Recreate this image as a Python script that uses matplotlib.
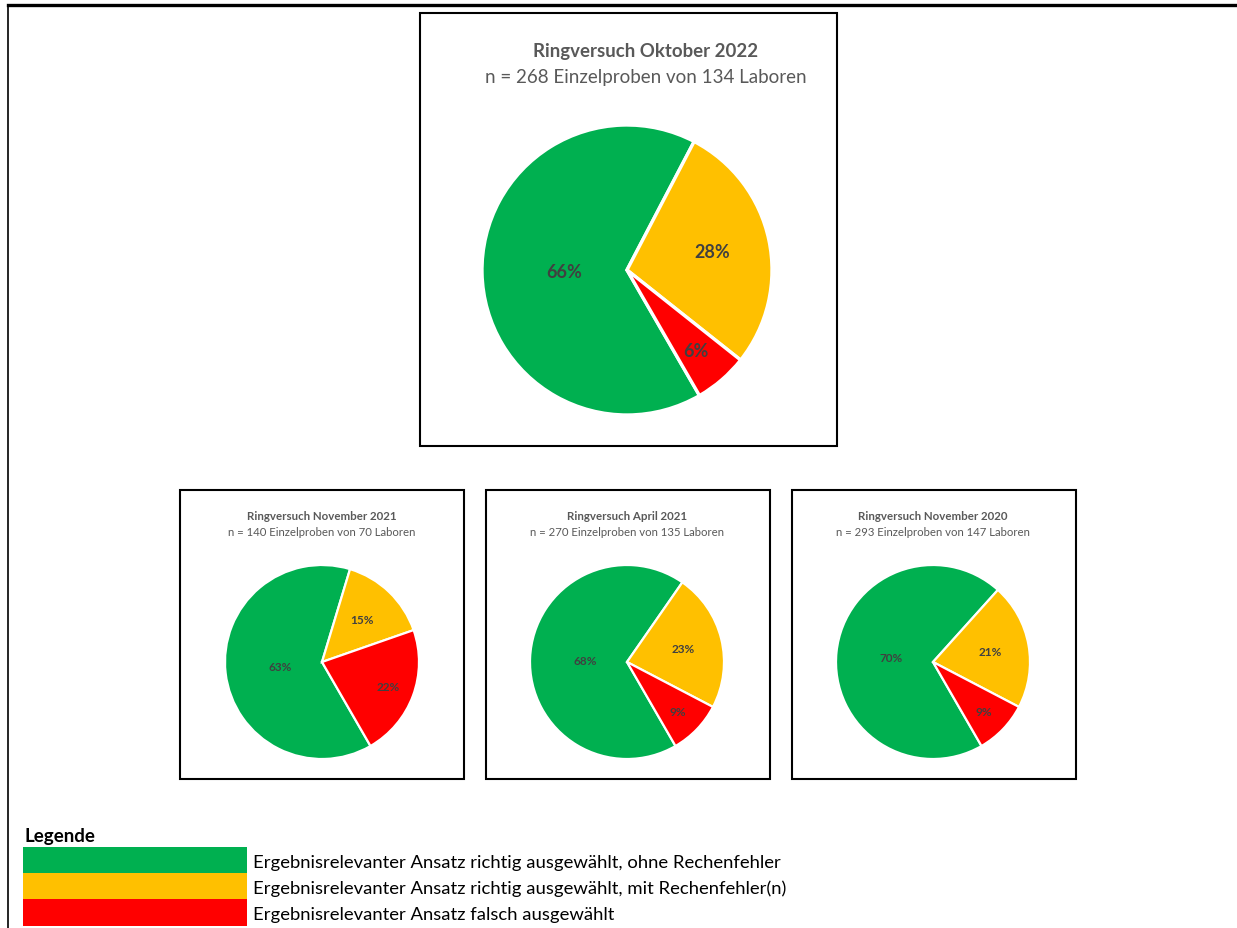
import numpy as np
import matplotlib.pyplot as plt
from matplotlib.patches import Rectangle
from matplotlib.lines import Line2D

plt.rcParams['font.family'] = ['Lato', 'DejaVu Sans']

# data
titles = ["Ringversuch Oktober 2022", "Ringversuch November 2021",
          "Ringversuch April 2021", "Ringversuch November 2020"]
subtitles = ["n = 268 Einzelproben von 134 Laboren",
             "n = 140 Einzelproben von 70 Laboren",
             "n = 270 Einzelproben von 135 Laboren",
             "n = 293 Einzelproben von 147 Laboren"]
shares = [[66, 28, 6], [63, 15, 22], [68, 23, 9], [70, 21, 9]]
categories = ["Ergebnisrelevanter Ansatz richtig ausgewählt, ohne Rechenfehler",
              "Ergebnisrelevanter Ansatz richtig ausgewählt, mit Rechenfehler(n)",
              "Ergebnisrelevanter Ansatz falsch ausgewählt"]
colors = ["#00B050", "#FFC000", "#FF0000"]

W, H = 1237, 929
fig = plt.figure(figsize=(W / 100, H / 100), dpi=100)


def fx(x):
    return x / W


def fy(y):
    return 1 - y / H


def box(x0, y0, x1, y1, lw=1.5):
    fig.add_artist(Rectangle((fx(x0), fy(y1)), fx(x1 - x0), (y1 - y0) / H,
                             fill=False, edgecolor="black", linewidth=lw,
                             transform=fig.transFigure))


# outer frame lines
fig.add_artist(Line2D([fx(8), 1], [fy(6), fy(6)], color="black", linewidth=2.4,
                      transform=fig.transFigure))
fig.add_artist(Line2D([fx(8), fx(8)], [fy(6), 0], color="black", linewidth=1.2,
                      transform=fig.transFigure))

# panel boxes, pie centres, radii
panels = [
    dict(box=(420, 14, 837, 447), c=(627, 271), r=145, tx=646, ty=(52, 77),
         fs=(13.4, 13.5), lfs=13, elw=2.4),
    dict(box=(180, 491, 464, 780), c=(322, 663), r=97, tx=322, ty=(517, 533),
         fs=(8.3, 8.2), lfs=8.5, elw=1.6),
    dict(box=(486, 491, 770, 780), c=(627, 663), r=97, tx=627, ty=(517, 533),
         fs=(8.3, 8.2), lfs=8.5, elw=1.6),
    dict(box=(792, 491, 1076, 780), c=(933, 663), r=97, tx=933, ty=(517, 533),
         fs=(8.3, 8.2), lfs=8.5, elw=1.6),
]
label_r = [0.43, 0.6, 0.73]

for i, p in enumerate(panels):
    box(*p["box"])
    fig.text(fx(p["tx"]), fy(p["ty"][0]), titles[i], ha="center", va="center",
             fontsize=p["fs"][0], fontweight="bold", color="#595959")
    fig.text(fx(p["tx"]), fy(p["ty"][1]), subtitles[i], ha="center", va="center",
             fontsize=p["fs"][1], color="#595959")
    cx, cy = p["c"]
    r = p["r"]
    ax = fig.add_axes([fx(cx - r), fy(cy + r), fx(2 * r), 2 * r / H])
    wedges, _ = ax.pie(shares[i], colors=colors, startangle=-60, counterclock=False,
                       wedgeprops=dict(edgecolor="white", linewidth=p["elw"]))
    for w, v, lr in zip(wedges, shares[i], label_r):
        ang = np.deg2rad((w.theta1 + w.theta2) / 2)
        ax.text(lr * np.cos(ang), lr * np.sin(ang), f"{v}%", ha="center", va="center",
                fontsize=p["lfs"], fontweight="bold", color="#404040")
    ax.set_xlim(-1, 1)
    ax.set_ylim(-1, 1)
    ax.set_aspect("equal")
    ax.axis("off")

# legend
fig.text(fx(25), fy(837), "Legende", ha="left", va="center", fontsize=13.5,
         fontweight="bold", color="black")
rows = [(848, 874), (874, 900), (900, 927)]
for (y0, y1), col, lab in zip(rows, colors, categories):
    fig.add_artist(Rectangle((fx(23), fy(y1)), fx(247 - 23), (y1 - y0) / H,
                             facecolor=col, edgecolor="none",
                             transform=fig.transFigure))
    fig.text(fx(253), fy((y0 + y1) / 2 + 2), lab, ha="left", va="center",
             fontsize=13.3, color="black")

fig.savefig("out.png", dpi=100)
